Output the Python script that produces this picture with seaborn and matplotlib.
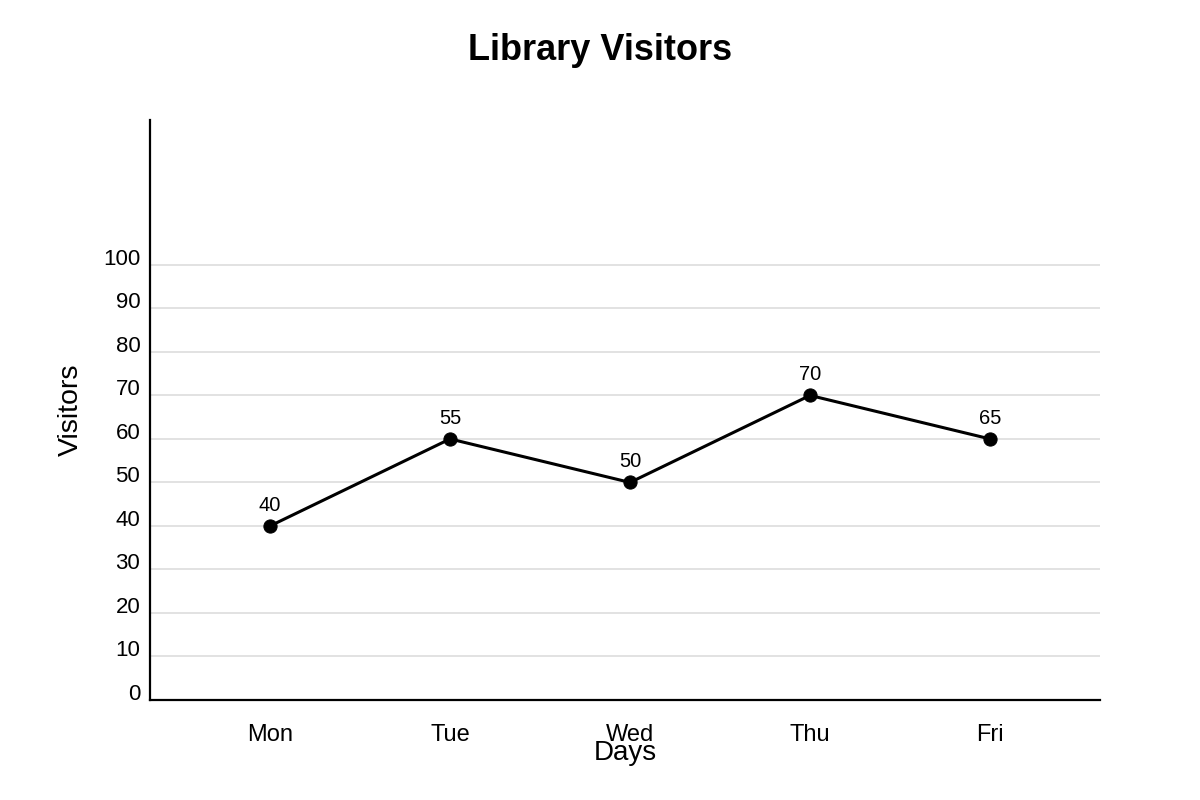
import matplotlib
matplotlib.use('Agg')
import matplotlib.pyplot as plt
import pandas as pd
import seaborn as sns

# Data
days = ['Mon', 'Tue', 'Wed', 'Thu', 'Fri']
visitors = [40, 60, 50, 70, 60]           # where the points are drawn
point_labels = ['40', '55', '50', '70', '65']  # text printed above each point
y_ticks = [0, 10, 20, 30, 40, 50, 60, 70, 80, 90, 100]

df = pd.DataFrame({'day': days, 'visitors': visitors})

sns.set_style('white')
plt.rcParams['font.family'] = ['Liberation Sans', 'DejaVu Sans']
plt.rcParams['text.color'] = 'black'
plt.rcParams['axes.labelcolor'] = 'black'
plt.rcParams['xtick.color'] = 'black'
plt.rcParams['ytick.color'] = 'black'

fig = plt.figure(figsize=(12, 8), dpi=100)
ax = fig.add_axes([150 / 1200, 100 / 800, 950 / 1200, 580 / 800])

sns.lineplot(data=df, x='day', y='visitors', ax=ax, color='black',
             linewidth=2.2, marker='o', markersize=9.5,
             markeredgecolor='black', markerfacecolor='black')

for i, txt in enumerate(point_labels):
  ax.annotate(txt, (i, visitors[i]), xytext=(0, 15), textcoords='offset points',
              ha='center', va='center', fontsize=14.5, color='black')

ax.set_xlim(-0.667, 4.611)
ax.set_ylim(0, 133.3)
ax.set_yticks(y_ticks)
ax.set_yticklabels([str(t) for t in y_ticks])
for lbl in ax.get_yticklabels():
  lbl.set_verticalalignment('baseline')

ax.yaxis.grid(True, color='#dddddd', linewidth=1.2)
ax.xaxis.grid(False)
ax.set_axisbelow(True)

ax.tick_params(axis='both', length=0)
ax.tick_params(axis='y', pad=7, labelsize=16)
ax.tick_params(axis='x', pad=17.5, labelsize=17)

for side in ['top', 'right']:
  ax.spines[side].set_visible(False)
for side in ['left', 'bottom']:
  ax.spines[side].set_color('black')
  ax.spines[side].set_linewidth(1.6)

ax.set_xlabel('Days', fontsize=20)
ax.xaxis.set_label_coords(0.5, -0.069)
ax.xaxis.label.set_verticalalignment('top')
ax.set_ylabel('Visitors', fontsize=20.5, labelpad=14)

fig.suptitle('Library Visitors', x=0.5, y=1 - 51 / 800, va='center',
             fontsize=26, fontweight='bold', color='black')

fig.savefig('out.png', dpi=100, facecolor='white')
